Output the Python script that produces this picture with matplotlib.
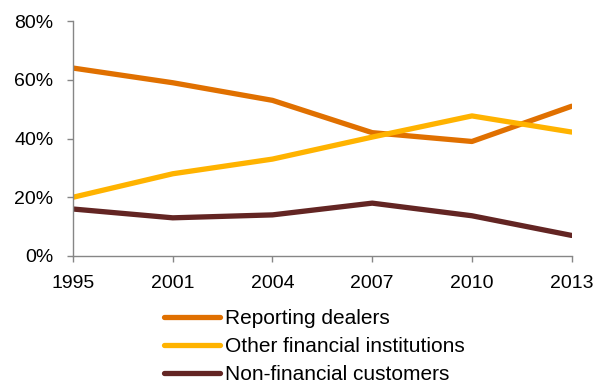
import matplotlib
matplotlib.use("Agg")
import matplotlib.pyplot as plt

plt.rcParams['font.family'] = ['Liberation Sans', 'DejaVu Sans']

years = ['1995', '2001', '2004', '2007', '2010', '2013']
reporting_dealers = [64, 59, 53, 42, 39, 51]
other_financial = [20, 28, 33, 40.5, 47.7, 42.2]
non_financial = [16, 13, 14, 18, 13.7, 7]

fig = plt.figure(figsize=(5.97, 3.83), dpi=100)
ax = fig.add_axes([0.1223, 0.3316, 0.8353, 0.6134])

x = range(len(years))
ax.plot(x, reporting_dealers, c='#E07000', lw=3.8, label='Reporting dealers', solid_capstyle='round')
ax.plot(x, other_financial, c='#FFB300', lw=3.8, label='Other financial institutions', solid_capstyle='round')
ax.plot(x, non_financial, c='#632523', lw=3.8, label='Non-financial customers', solid_capstyle='round')

ax.set_xlim(0, len(years) - 1)
ax.set_ylim(0, 80)
ax.set_xticks(list(x))
ax.set_xticklabels(years)
ax.set_yticks([0, 20, 40, 60, 80])
ax.set_yticklabels(['0%', '20%', '40%', '60%', '80%'])

for s in ['top', 'right']:
    ax.spines[s].set_visible(False)
for s in ['left', 'bottom']:
    ax.spines[s].set_color('#868686')
    ax.spines[s].set_linewidth(1)
ax.tick_params(axis='both', colors='#868686', labelcolor='black', labelsize=14, width=1, length=4, direction='out')
ax.tick_params(axis='x', pad=10)
ax.tick_params(axis='y', pad=10)

fig.legend(loc='upper left', bbox_to_anchor=(0.275, 0.192), frameon=False, fontsize=15,
           handlelength=2.7, handletextpad=0.2, labelspacing=0.42, borderpad=0, borderaxespad=0)

fig.savefig('out.png', dpi=100)
